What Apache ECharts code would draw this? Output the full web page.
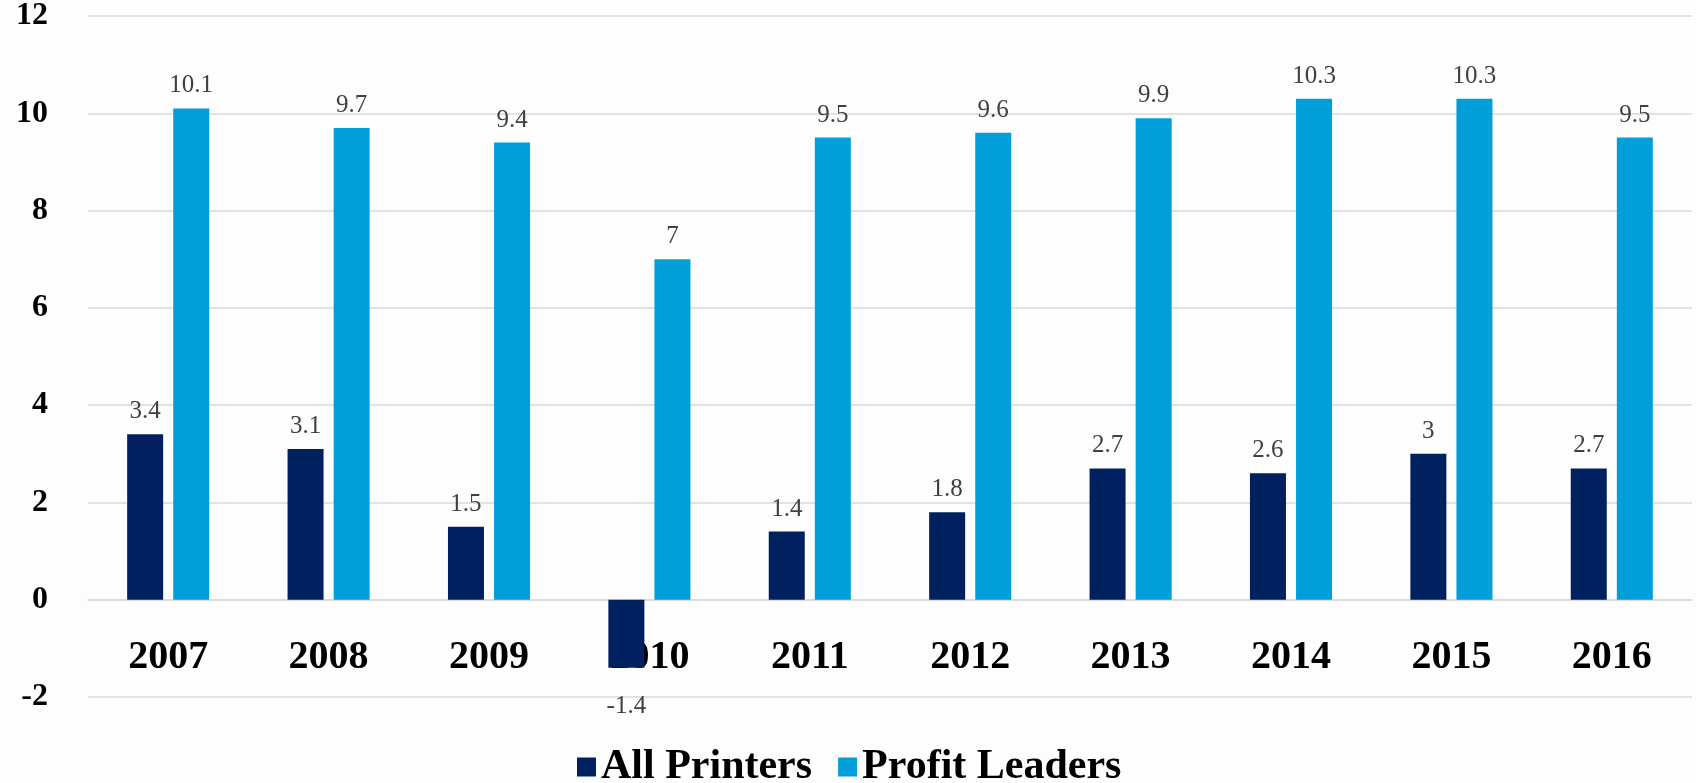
<!DOCTYPE html>
<html>
<head>
<meta charset="utf-8">
<script src="https://cdn.jsdelivr.net/npm/echarts@6/dist/echarts.min.js"></script>
<style>
  html, body { margin: 0; padding: 0; background: #fdfdfd; }
  #chart { width: 1696px; height: 783px; }
</style>
</head>
<body>
<div id="chart"></div>
<script>
// values
const years = ['2007', '2008', '2009', '2010', '2011', '2012', '2013', '2014', '2015', '2016'];
const allPrinters = [3.4, 3.1, 1.5, -1.4, 1.4, 1.8, 2.7, 2.6, 3, 2.7];
const profitLeaders = [10.1, 9.7, 9.4, 7, 9.5, 9.6, 9.9, 10.3, 10.3, 9.5];
const seriesNames = ['All Printers', 'Profit Leaders'];
const colors = ['#002060', '#009fda'];

const serif = '"Liberation Serif", "DejaVu Serif", serif';

const chart = echarts.init(document.getElementById('chart'));

const labelStyle = {
  show: true,
  position: 'top',
  distance: 10,
  color: '#404040',
  fontFamily: serif,
  fontSize: 25
};

chart.setOption({
  backgroundColor: '#fdfdfd',
  animation: false,
  color: colors,
  grid: { left: 88, right: 4, top: 16, bottom: 86, containLabel: false },
  legend: {
    top: 741,
    left: 572,
    itemWidth: 19,
    itemHeight: 19,
    itemGap: 26,
    icon: 'rect',
    textStyle: { fontFamily: serif, fontWeight: 'bold', fontSize: 42, color: '#000' },
    data: seriesNames
  },
  xAxis: {
    type: 'category',
    data: years,
    // axis sits on the zero line (grid bottom is -2, two steps of ~48.6px below)
    offset: -97,
    axisLine: { onZero: false, lineStyle: { color: '#d9d9d9', width: 1.5 } },
    axisTick: { show: false },
    axisLabel: {
      margin: 38,
      color: '#000',
      fontFamily: serif,
      fontWeight: 'bold',
      fontSize: 40
    }
  },
  yAxis: {
    type: 'value',
    min: -2,
    max: 12,
    interval: 2,
    axisLine: { show: false },
    axisTick: { show: false },
    splitLine: { lineStyle: { color: '#d9d9d9', width: 1.5 } },
    axisLabel: {
      margin: 40,
      color: '#000',
      fontFamily: serif,
      fontWeight: 'bold',
      fontSize: 32
    }
  },
  series: [
    {
      name: seriesNames[0],
      type: 'bar',
      barWidth: 36,
      barGap: '28%',
      label: labelStyle,
      data: allPrinters.map(v => v < 0
        ? { value: v, label: { position: 'bottom', distance: 26 } }
        : v)
    },
    {
      name: seriesNames[1],
      type: 'bar',
      barWidth: 36,
      barGap: '28%',
      label: labelStyle,
      data: profitLeaders
    }
  ]
});
</script>
</body>
</html>
